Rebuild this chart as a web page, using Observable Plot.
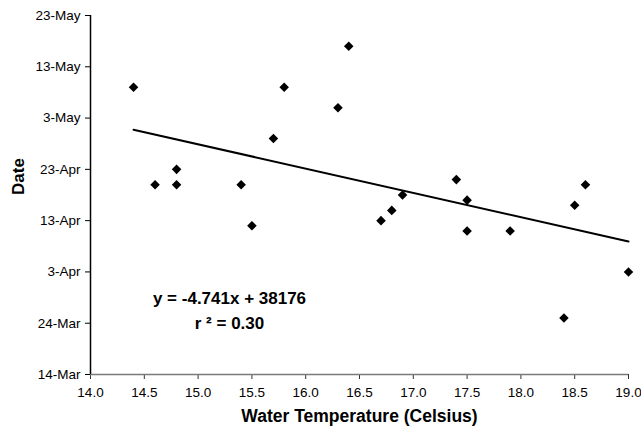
<!DOCTYPE html>
<html>
<head>
<meta charset="utf-8">
<script src="https://cdn.jsdelivr.net/npm/d3@7"></script>
<script src="https://cdn.jsdelivr.net/npm/@observablehq/plot@0.6"></script>
<style>
  html, body { margin: 0; padding: 0; background: #fff; }
  svg { display: block; }
</style>
</head>
<body>
<div id="chart"></div>
<script>
// Data
const temps = [14.4, 14.6, 14.8, 14.8, 15.4, 15.5, 15.7, 15.8, 16.3, 16.4, 16.7, 16.8, 16.9, 17.4, 17.5, 17.5, 17.9, 18.4, 18.5, 18.6, 19.0];
const dates = ["2004-05-09", "2004-04-20", "2004-04-23", "2004-04-20", "2004-04-20", "2004-04-12", "2004-04-29", "2004-05-09", "2004-05-05", "2004-05-17", "2004-04-13", "2004-04-15", "2004-04-18", "2004-04-21", "2004-04-17", "2004-04-11", "2004-04-11", "2004-03-25", "2004-04-16", "2004-04-20", "2004-04-03"];
// Trend line (Excel serial date = slope * temp + intercept)
const slope = -4.741;
const intercept = 38176;
const trendX = [14.4, 19.0];
const xTicks = [14.0, 14.5, 15.0, 15.5, 16.0, 16.5, 17.0, 17.5, 18.0, 18.5, 19.0];
const yTickLabels = ["14-Mar", "24-Mar", "3-Apr", "13-Apr", "23-Apr", "3-May", "13-May", "23-May"];
const equationText = "y = -4.741x + 38176";
const r2Text = "r \u00b2 = 0.30";

const parse = d3.utcParse("%Y-%m-%d");
const excelEpoch = Date.UTC(1899, 11, 30);
const fromSerial = s => new Date(excelEpoch + s * 864e5);

const points = temps.map((t, i) => ({temp: t, date: parse(dates[i])}));
const trend = trendX.map(t => ({temp: t, date: fromSerial(slope * t + intercept)}));
const yStart = new Date(Date.UTC(2004, 2, 14));
const yTicks = yTickLabels.map((_, i) => d3.utcDay.offset(yStart, i * 10));
const yDomain = [yTicks[0], yTicks[yTicks.length - 1]];

const font = "'Liberation Sans', Arial, sans-serif";

const chart = Plot.plot({
  width: 641,
  height: 431,
  marginLeft: 90,
  marginRight: 13,
  marginTop: 15,
  marginBottom: 57,
  style: {fontFamily: font, fontSize: "13px", color: "#000", background: "#fff"},
  x: {domain: [14, 19]},
  y: {type: "utc", domain: yDomain},
  marks: [
    Plot.axisX({ticks: xTicks, tickFormat: d3.format(".1f"), label: null, tickSize: 5, tickPadding: 8, fontSize: 13.5, stroke: "#333"}),
    Plot.axisY({ticks: yTicks, tickFormat: (d, i) => yTickLabels[i], label: null, tickSize: 5, tickPadding: 5, fontSize: 13.5}),
    Plot.ruleY([yDomain[0]], {stroke: "#7a7a7a", strokeWidth: 1.5}),
    Plot.ruleX([14], {stroke: "#000", strokeWidth: 1.5}),
    Plot.line(trend, {x: "temp", y: "date", stroke: "#000", strokeWidth: 2}),
    Plot.dot(points, {x: "temp", y: "date", symbol: "diamond2", r: 4.3, fill: "#000", stroke: "none"}),
    Plot.text([equationText], {frameAnchor: "top-left", dx: 139, dy: 283, lineAnchor: "middle", textAnchor: "middle", fontSize: 17, fontWeight: "bold", fill: "#000"}),
    Plot.text([r2Text], {frameAnchor: "top-left", dx: 139, dy: 308, lineAnchor: "middle", textAnchor: "middle", fontSize: 17, fontWeight: "bold", fill: "#000"}),
    Plot.text(["Water Temperature (Celsius)"], {frameAnchor: "bottom", dy: 42, lineAnchor: "middle", fontSize: 17.5, fontWeight: "bold", fill: "#000"}),
    Plot.text(["Date"], {frameAnchor: "left", dx: -72, rotate: -90, fontSize: 17, fontWeight: "bold", fill: "#000"})
  ]
});
document.getElementById("chart").appendChild(chart);
</script>
</body>
</html>
